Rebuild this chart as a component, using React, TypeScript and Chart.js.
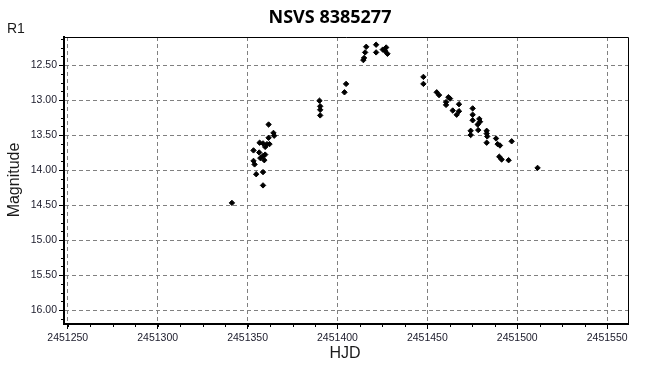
import React, { useEffect, useRef } from "react";
import { Chart, registerables } from "chart.js";

Chart.register(...registerables);

const titleText = "NSVS 8385277";
const bandLabel = "R1";
const xAxisLabel = "HJD";
const yAxisLabel = "Magnitude";

const hjd = [
  2451341.3,
  2451353.3, 2451353.3, 2451353.9, 2451354.8, 2451356.5, 2451356.7, 2451357.1,
  2451358.6, 2451358.6, 2451358.6, 2451358.6, 2451359.3, 2451359.8, 2451359.8,
  2451360.8, 2451361.7, 2451361.7, 2451362.2, 2451364.4, 2451364.8,
  2451390.0, 2451390.4, 2451390.4, 2451390.4, 2451403.9, 2451404.8,
  2451414.4, 2451414.8, 2451415.4, 2451416.0, 2451421.5, 2451421.5,
  2451425.2, 2451427.1, 2451427.8, 2451426.5,
  2451447.8, 2451447.8, 2451455.2, 2451456.5, 2451461.7, 2451462.6, 2451460.4,
  2451460.4, 2451467.6, 2451464.1, 2451467.6, 2451466.3, 2451475.2, 2451475.2,
  2451475.2, 2451478.9, 2451479.3, 2451478.0, 2451478.3, 2451474.1, 2451474.1,
  2451483.0, 2451483.0, 2451483.3, 2451483.0, 2451488.2, 2451489.1, 2451490.4,
  2451496.9, 2451490.0, 2451491.3, 2451495.2, 2451511.3,
];

const mag = [
  14.47,
  13.72, 13.87, 13.92, 14.06, 13.75, 13.61, 13.83,
  13.62, 13.80, 14.03, 14.22, 13.86, 13.67, 13.78,
  13.63, 13.35, 13.54, 13.63, 13.47, 13.51,
  13.01, 13.09, 13.14, 13.22, 12.89, 12.77,
  12.43, 12.40, 12.32, 12.24, 12.21, 12.32,
  12.28, 12.25, 12.34, 12.30,
  12.67, 12.77, 12.89, 12.93, 12.96, 12.98, 13.03,
  13.07, 13.06, 13.15, 13.16, 13.21, 13.12, 13.21,
  13.29, 13.27, 13.31, 13.35, 13.43, 13.44, 13.50,
  13.44, 13.48, 13.52, 13.61, 13.55, 13.63, 13.65,
  13.59, 13.81, 13.85, 13.86, 13.97,
];

const xTicks = [2451250, 2451300, 2451350, 2451400, 2451450, 2451500, 2451550];
const yTicks = [12.5, 13.0, 13.5, 14.0, 14.5, 15.0, 15.5, 16.0];
const xMin = 2451247.9;
const xMax = 2451561.6;
const yMin = 12.1;
const yMax = 16.2;

const decorPlugin = {
  id: "decor",
  afterDraw(chart: any) {
    const { ctx, chartArea: a, scales } = chart;
    const xs = scales.x;
    const ys = scales.y;
    ctx.save();
    // top and right frame
    ctx.strokeStyle = "#000";
    ctx.lineWidth = 1;
    ctx.setLineDash([]);
    ctx.beginPath();
    ctx.moveTo(a.left, Math.round(a.top) + 0.5);
    ctx.lineTo(Math.round(a.right) + 0.5, Math.round(a.top) + 0.5);
    ctx.lineTo(Math.round(a.right) + 0.5, a.bottom);
    ctx.stroke();

    // minor ticks
    ctx.beginPath();
    const xStep = (xTicks[1] - xTicks[0]) / 4;
    for (let v = xTicks[0] - 4 * xStep; v <= xMax; v += xStep) {
      if (v < xMin) continue;
      const px = Math.round(xs.getPixelForValue(v)) + 0.5;
      ctx.moveTo(px, a.bottom);
      ctx.lineTo(px, a.bottom + 3);
    }
    const yStep = (yTicks[1] - yTicks[0]) / 4;
    for (let v = yTicks[0] - 4 * yStep; v <= yMax + 1e-9; v += yStep) {
      if (v < yMin) continue;
      const py = Math.round(ys.getPixelForValue(v)) + 0.5;
      ctx.moveTo(a.left - 3, py);
      ctx.lineTo(a.left, py);
    }
    ctx.stroke();

    // texts
    ctx.fillStyle = "#000";
    ctx.font = "bold 18px 'Open Sans'";
    ctx.textAlign = "center";
    ctx.textBaseline = "alphabetic";
    ctx.fillText(titleText, 330, 23);

    ctx.fillStyle = "#1a1a1a";
    ctx.font = "14px 'Liberation Sans'";
    ctx.textAlign = "left";
    ctx.fillText(bandLabel, 7, 33);

    ctx.font = "16px 'Liberation Sans'";
    ctx.textAlign = "center";
    ctx.fillText(xAxisLabel, 345, 358);

    ctx.save();
    ctx.translate(19, 180);
    ctx.rotate(-Math.PI / 2);
    ctx.font = "16px 'Liberation Sans'";
    ctx.textAlign = "center";
    ctx.fillText(yAxisLabel, 0, 0);
    ctx.restore();

    ctx.restore();
  },
};

export default function App() {
  const canvasRef = useRef<HTMLCanvasElement | null>(null);

  useEffect(() => {
    const canvas = canvasRef.current;
    if (!canvas) return;
    const points = hjd.map((x, i) => ({ x, y: mag[i] }));
    const tickFont = { family: "'Liberation Sans'", size: 10.5 };
    const chart = new Chart(canvas, {
      type: "scatter",
      data: {
        datasets: [
          {
            data: points,
            pointStyle: "rectRot",
            pointRadius: 2.7,
            pointHoverRadius: 2.7,
            borderWidth: 1,
            backgroundColor: "#000",
            borderColor: "#000",
            showLine: false,
          },
        ],
      },
      options: {
        animation: false,
        responsive: false,
        devicePixelRatio: 1,
        events: [],
        layout: { padding: { left: 0, top: 37, right: 37, bottom: 0 } },
        plugins: {
          legend: { display: false },
          tooltip: { enabled: false },
          title: { display: false },
        },
        scales: {
          x: {
            type: "linear",
            min: xMin,
            max: xMax,
            afterBuildTicks: (scale: any) => {
              scale.ticks = xTicks.map((v) => ({ value: v }));
            },
            afterFit: (scale: any) => {
              scale.height = 49;
            },
            ticks: {
              autoSkip: false,
              maxRotation: 0,
              minRotation: 0,
              padding: 3,
              color: "#1a1a2a",
              font: tickFont,
              callback: (v: any) => String(v),
            },
            grid: {
              color: "#808080",
              lineWidth: 1,
              drawTicks: true,
              tickLength: 5,
              tickColor: "#000",
              tickWidth: 1,
            },
            border: { display: true, color: "#000", width: 2, dash: [4, 3] },
          },
          y: {
            type: "linear",
            reverse: true,
            min: yMin,
            max: yMax,
            afterBuildTicks: (scale: any) => {
              scale.ticks = yTicks.map((v) => ({ value: v }));
            },
            afterFit: (scale: any) => {
              scale.width = 64;
            },
            ticks: {
              autoSkip: false,
              padding: 2,
              color: "#1a1a2a",
              font: tickFont,
              callback: (v: any) => Number(v).toFixed(2),
            },
            grid: {
              color: "#808080",
              lineWidth: 1,
              drawTicks: true,
              tickLength: 5,
              tickColor: "#000",
              tickWidth: 1,
            },
            border: { display: true, color: "#000", width: 2, dash: [4, 3] },
          },
        },
      },
      plugins: [decorPlugin],
    });
    return () => {
      chart.destroy();
    };
  }, []);

  return (
    <div
      style={{
        position: "fixed",
        left: 0,
        top: 0,
        width: 665,
        height: 373,
        background: "#fff",
      }}
    >
      <canvas
        ref={canvasRef}
        width={665}
        height={373}
        style={{ display: "block", width: 665, height: 373 }}
      />
    </div>
  );
}
